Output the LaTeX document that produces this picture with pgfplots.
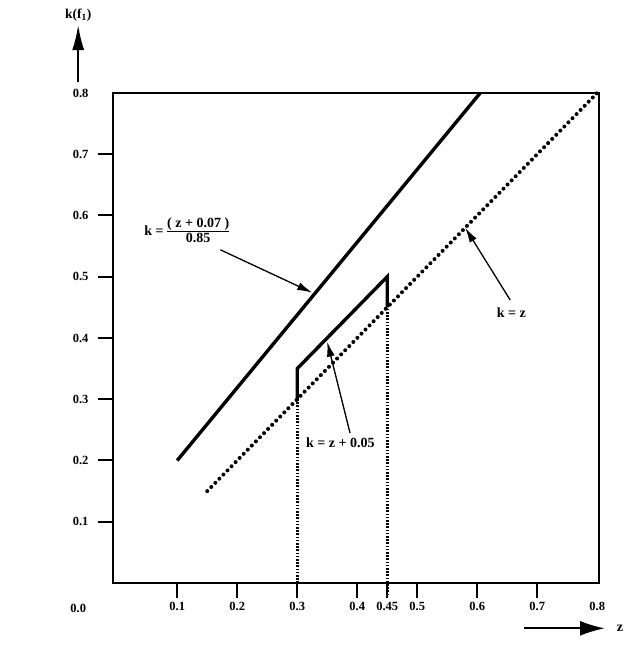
\documentclass[border=0pt]{standalone}
\usepackage{fontspec}
\setmainfont{Liberation Serif}
\usepackage{pgfplots}
\pgfplotsset{compat=1.18}
\usetikzlibrary{arrows.meta}
\begin{document}
\begin{tikzpicture}[font=\fontsize{12}{14}\selectfont\bfseries]
\begin{axis}[
  scale only axis, width=486pt, height=490pt,
  xmin=-0.007, xmax=0.803, ymin=0, ymax=0.8,
  clip=false,
  axis line style={line width=2pt},
  tick align=outside, major tick length=15pt,
  tick style={line width=2pt, black},
  xtick pos=bottom, ytick pos=left,
  xtick={0.1,0.2,0.3,0.4,0.45,0.5,0.6,0.7},
  xticklabels={0.1,0.2,0.3,0.4,\raisebox{4pt}{0.45},0.5,0.6,0.7},
  ytick={0.1,0.2,0.3,0.4,0.5,0.6,0.7},
  yticklabels={0.1,0.2,0.3,0.4,0.5,0.6,0.7},
  extra x ticks={0.8}, extra x tick labels={0.8},
  extra y ticks={0.8}, extra y tick labels={0.8},
  extra tick style={major tick style={draw=none}},
  /pgf/number format/assume math mode=true,
  tick label style={font=\fontsize{12.5}{14}\selectfont\bfseries},
  yticklabel style={xshift=-6pt},
  xticklabel style={yshift=-1pt},
]
% k = (z+0.07)/0.85
\addplot[black, line width=3.4pt] coordinates {(0.1,0.2) (0.605,0.8)};
% k = z (dotted)
\addplot[black, line width=4pt, line cap=round, dash pattern=on 0pt off 5.8pt] coordinates {(0.15,0.15) (0.8,0.8)};
% k = z + 0.05 segment
\addplot[black, line width=3.4pt, line join=miter] coordinates {(0.3,0.3) (0.3,0.35) (0.45,0.5) (0.45,0.45)};
% dotted verticals
\addplot[black, line width=2.6pt, dash pattern=on 1.6pt off 1.6pt] coordinates {(0.3,0) (0.3,0.3)};
\addplot[black, line width=2.6pt, dash pattern=on 1.6pt off 1.6pt] coordinates {(0.45,-0.02) (0.45,0.45)};

\coordinate (bl) at (rel axis cs:0,0);
\coordinate (tr) at (rel axis cs:1,1);

% annotations
\begingroup
\node[anchor=west, inner sep=0pt, font=\fontsize{14}{16}\selectfont\bfseries] at (axis cs:0.045,0.573) {k = \begin{tabular}{@{}c@{}}( z + 0.07 )\\[-1pt]\hline\rule{0pt}{11pt}0.85\end{tabular}};
\endgroup
\draw[line width=1.3pt, -{Latex[length=15pt,width=8pt]}] (axis cs:0.172,0.544) -- (axis cs:0.325,0.474);
\node[inner sep=0pt, font=\fontsize{14}{16}\selectfont\bfseries] at (axis cs:0.657,0.441) {k = z};
\draw[line width=1.3pt, -{Latex[length=15pt,width=8pt]}] (axis cs:0.655,0.462) -- (axis cs:0.58,0.580);
\node[inner sep=0pt, font=\fontsize{14}{16}\selectfont\bfseries] at (axis cs:0.372,0.229) {k = z + 0.05};
\draw[line width=1.3pt, -{Latex[length=15pt,width=8pt]}] (axis cs:0.388,0.245) -- (axis cs:0.35,0.394);

% axis labels and arrows
\node[font=\fontsize{12.5}{14}\selectfont\bfseries] at (axis cs:-0.065,-0.0416) {0.0};
\node[font=\fontsize{13.5}{15}\selectfont\bfseries] at (axis cs:-0.065,0.927) {k(f\textsubscript{1})};
\draw[line width=2pt, -{Latex[length=25pt,width=12pt]}] (axis cs:-0.065,0.818) -- (axis cs:-0.065,0.911);
\draw[line width=2pt, -{Latex[length=25pt,width=15pt]}] (axis cs:0.678,-0.074) -- (axis cs:0.813,-0.074);
\node[font=\fontsize{14}{16}\selectfont\bfseries] at (axis cs:0.838,-0.074) {z};
\end{axis}
\pgfresetboundingbox
\path[use as bounding box] ([shift={(-113pt,-70pt)}]bl) rectangle ([shift={(38pt,93pt)}]tr);
\end{tikzpicture}
\end{document}
